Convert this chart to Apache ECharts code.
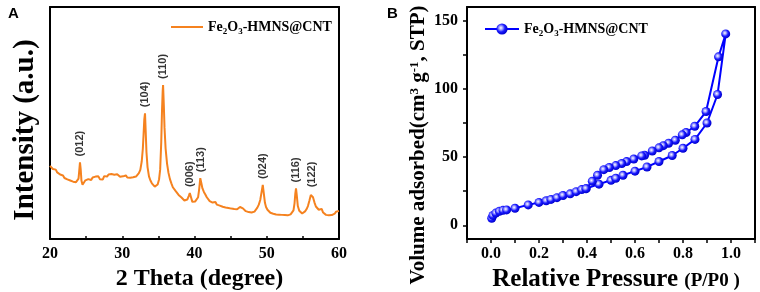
<!DOCTYPE html>
<html><head><meta charset="utf-8">
<script src="https://cdn.jsdelivr.net/npm/echarts@6/dist/echarts.min.js"></script>
<style>html,body{margin:0;padding:0;background:#fff}#c{width:760px;height:292px}</style>
</head><body><div id="c"></div>
<script>
// ---- Panel A: XRD pattern ----
const xrdTheta = [20.0,20.2,20.4,20.6,20.8,21.0,21.2,21.4,21.6,21.8,22.0,22.2,22.4,22.6,22.8,23.0,23.2,23.4,23.6,23.8,23.95,24.05,24.15,24.25,24.35,24.5,24.7,24.9,25.1,25.3,25.5,25.7,25.9,26.1,26.3,26.5,26.7,26.9,27.1,27.3,27.5,27.7,27.9,28.1,28.3,28.5,28.7,28.9,29.1,29.3,29.5,29.7,29.9,30.1,30.3,30.5,30.7,30.9,31.1,31.3,31.5,31.7,31.9,32.1,32.3,32.5,32.7,32.85,32.95,33.05,33.15,33.25,33.35,33.5,33.7,33.9,34.1,34.3,34.5,34.7,34.9,35.1,35.25,35.4,35.5,35.6,35.65,35.75,35.85,36.0,36.2,36.4,36.6,36.8,37.0,37.2,37.4,37.6,37.8,38.0,38.2,38.4,38.6,38.8,39.0,39.2,39.35,39.5,39.7,39.9,40.1,40.3,40.5,40.65,40.8,40.95,41.1,41.3,41.5,41.7,41.9,42.1,42.3,42.5,42.7,42.9,43.1,43.3,43.5,43.7,43.9,44.1,44.3,44.5,44.7,44.9,45.1,45.3,45.5,45.7,45.9,46.1,46.3,46.5,46.7,46.9,47.1,47.3,47.5,47.7,47.9,48.1,48.3,48.5,48.7,48.9,49.1,49.3,49.45,49.6,49.75,49.9,50.1,50.3,50.5,50.7,50.9,51.1,51.3,51.5,51.7,51.9,52.1,52.3,52.5,52.7,52.9,53.1,53.3,53.5,53.7,53.85,53.95,54.05,54.15,54.3,54.5,54.7,54.9,55.1,55.3,55.5,55.7,55.9,56.1,56.25,56.4,56.6,56.8,57.0,57.2,57.4,57.6,57.8,58.0,58.2,58.4,58.6,58.8,59.0,59.2,59.4,59.6,59.8,60.0];
const xrdIntensity = [31.5,30.8,30.2,29.6,29.9,28.7,28.3,27.8,27.0,27.4,26.3,26.6,25.7,25.9,25.2,25.6,24.7,25.1,24.5,25.0,26.0,29.5,33.0,30.0,25.2,23.4,24.1,25.3,24.6,25.8,26.1,25.4,26.5,25.9,26.9,26.2,27.0,25.8,26.4,25.6,27.1,27.6,26.9,27.8,27.3,28.0,27.2,27.7,27.0,27.9,27.3,26.8,27.6,27.0,26.6,27.4,26.5,27.1,26.4,27.0,26.6,27.3,26.9,27.6,28.4,29.8,33.5,39.0,45.0,51.5,54.2,46.0,37.5,31.0,27.0,25.2,24.0,23.2,22.6,22.4,23.5,25.8,30.0,42.0,55.0,64.0,66.4,58.0,48.0,39.0,32.5,28.5,25.8,24.0,22.3,21.6,20.6,19.9,19.0,18.5,17.9,17.2,16.6,16.4,17.0,18.5,19.8,18.2,16.0,15.4,16.2,16.9,18.0,21.5,26.2,24.0,21.8,20.3,19.2,18.0,17.4,16.3,16.8,15.7,15.4,15.9,14.8,15.1,14.4,14.9,13.9,14.5,13.6,14.2,13.4,13.9,13.1,13.7,12.9,13.3,12.8,13.4,13.8,14.0,13.2,12.5,12.0,12.4,11.6,11.9,11.4,12.0,11.8,12.6,13.5,14.8,16.8,20.5,23.3,19.5,15.6,13.8,12.6,11.9,11.3,11.7,10.9,11.4,10.6,11.1,10.5,11.0,10.4,10.9,10.3,10.8,10.2,10.9,10.6,11.3,12.3,15.5,19.5,21.8,19.0,14.2,12.2,11.6,11.0,11.4,11.9,12.8,14.2,16.5,19.0,19.7,18.0,15.8,14.0,13.2,12.6,13.3,13.0,11.4,10.9,10.4,10.8,10.2,10.7,10.3,11.0,10.9,11.8,11.5,12.1];
const peakTheta = [24.15,33.15,35.65,39.35,40.85,49.45,54.05,56.25];
const peakIntensity = [33.0,54.2,66.4,19.8,26.2,23.3,21.8,19.7];
const peakLabels = ['(012)','(104)','(110)','(006)','(113)','(024)','(116)','(122)'];

// ---- Panel B: N2 isotherm ----
const adsP = [0.003,0.008,0.02,0.035,0.05,0.065,0.10,0.155,0.20,0.23,0.25,0.275,0.30,0.33,0.355,0.378,0.396,0.45,0.50,0.52,0.55,0.60,0.65,0.70,0.755,0.80,0.85,0.90,0.944,0.978];
const adsV = [5.2,7.3,9.0,10.3,11.0,11.3,12.5,15.0,16.8,18.0,19.0,20.3,21.9,23.1,24.7,26.2,26.9,30.2,33.0,34.5,36.7,39.7,42.8,46.8,51.2,56.5,63.0,75.0,95.9,140.3];
const desP = [0.948,0.896,0.849,0.813,0.797,0.768,0.74,0.718,0.70,0.672,0.64,0.628,0.595,0.565,0.545,0.52,0.493,0.47,0.444,0.422,0.396];
const desV = [123.5,83.4,72.6,68.0,66.3,62.4,60.2,58.4,56.8,54.5,51.4,50.9,48.6,46.7,45.3,43.8,42.4,40.8,36.7,32.3,26.9];

const serif = "'Liberation Serif','Times New Roman',serif";
const sans = "'Liberation Sans',Arial,sans-serif";
const xrdData = xrdTheta.map((t,i)=>[t, xrdIntensity[i]]);
const peakData = peakTheta.map((t,i)=>[t, peakIntensity[i], peakLabels[i]]);
const isoData = adsP.map((p,i)=>[p, adsV[i]]).concat(desP.map((p,i)=>[p, desV[i]]));

const tickFont = {fontFamily: serif, fontWeight: 'bold', fontSize: 16, color: '#000'};
const legendText = {
  fontFamily: serif, fontWeight: 'bold', fontSize: 14, color: '#000',
  rich: {
    m: {fontFamily: serif, fontWeight: 'bold', fontSize: 14, color: '#000'},
    sub: {fontFamily: serif, fontWeight: 'bold', fontSize: 9, color: '#000', padding: [9, 0, 0, 0]}
  }
};
const legendFmt = () => '{m|Fe}{sub|2}{m|O}{sub|3}{m|-HMNS@CNT}';
const line2 = {lineStyle: {color: '#000', width: 2}, onZero: false};
const frameAxis = (grid, pos, min, max) => ({
  gridIndex: grid, type: 'value', position: pos, min: min, max: max,
  axisLine: Object.assign({show: true}, line2), axisTick: {show: false}, axisLabel: {show: false}, splitLine: {show: false}
});

const chart = echarts.init(document.getElementById('c'), null, {renderer: 'canvas'});
chart.setOption({
  animation: false,
  backgroundColor: '#fff',
  title: [
    {text: 'A', left: 3, top: 1, textStyle: {fontFamily: sans, fontWeight: 'bold', fontSize: 15, color: '#000'}},
    {text: 'B', left: 382, top: 1, textStyle: {fontFamily: sans, fontWeight: 'bold', fontSize: 15, color: '#000'}}
  ],
  grid: [
    {left: 50, top: 7, width: 289, height: 232, outerBoundsMode: 'none', containLabel: false},
    {left: 467, top: 7, width: 288, height: 232, outerBoundsMode: 'none', containLabel: false}
  ],
  legend: [
    {data: [{name: 'xrd', icon: 'rect'}], left: 166, top: 15, itemWidth: 32, itemHeight: 2, itemGap: 4, formatter: legendFmt, textStyle: legendText, selectedMode: false},
    {data: ['iso'], left: 479, top: 17, itemWidth: 34, itemHeight: 14, formatter: legendFmt, textStyle: legendText, selectedMode: false}
  ],
  xAxis: [
    {gridIndex: 0, type: 'value', min: 20, max: 60, interval: 10,
     axisLine: line2,
     axisTick: {inside: true, length: 3, lineStyle: {color: '#000', width: 1.5}},
     minorTick: {show: true, splitNumber: 2, length: 3, lineStyle: {color: '#000', width: 1.5}},
     splitLine: {show: false},
     axisLabel: Object.assign({margin: 7}, tickFont),
     name: '2 Theta (degree)', nameLocation: 'middle', nameGap: 24,
     nameTextStyle: {fontFamily: serif, fontWeight: 'bold', fontSize: 24, color: '#000', padding: [0, 0, 0, 10]}},
    {gridIndex: 1, type: 'value', min: -0.1, max: 1.1, interval: 0.1,
     axisLine: line2,
     axisTick: {inside: false, length: 4, lineStyle: {color: '#000', width: 1.5}},
     splitLine: {show: false},
     axisLabel: Object.assign({margin: 7, formatter: v => {const k = Math.round(v*10); return (k >= 0 && k <= 10 && k % 2 === 0) ? (k/10).toFixed(1) : '';}}, tickFont),
     name: '{n|Relative Pressure }{s|(P/P0 )}', nameLocation: 'middle', nameGap: 23,
     nameTextStyle: {padding: [0, 0, 0, 10], rich: {
       n: {fontFamily: serif, fontWeight: 'bold', fontSize: 25, color: '#000'},
       s: {fontFamily: serif, fontWeight: 'bold', fontSize: 19, color: '#000', padding: [4, 0, 0, 0]}}}},
    frameAxis(0, 'top', 20, 60),
    frameAxis(1, 'top', -0.1, 1.1)
  ],
  yAxis: [
    {gridIndex: 0, type: 'value', min: 0, max: 100,
     axisLine: Object.assign({show: true}, line2),
     axisTick: {show: false}, axisLabel: {show: false}, splitLine: {show: false},
     name: 'Intensity (a.u.)', nameLocation: 'middle', nameGap: 10,
     nameTextStyle: {fontFamily: serif, fontWeight: 'bold', fontSize: 29, color: '#000', padding: [0, 14, 0, 0]}},
    {gridIndex: 1, type: 'value', min: -10, max: 160,
     axisLine: Object.assign({show: true}, line2),
     axisTick: {show: true, length: 4, customValues: [0, 25, 50, 75, 100, 125, 150], lineStyle: {color: '#000', width: 1.5}},
     axisLabel: Object.assign({margin: 9, customValues: [0, 50, 100, 150]}, tickFont),
     splitLine: {show: false},
     name: '{n|Volume adsorbed(cm}{sup|3}{n| g}{sup|-1}{n|, STP)}', nameLocation: 'middle', nameGap: 37,
     nameTextStyle: {padding: [0, 44, 0, 0], rich: {
       n: {fontFamily: serif, fontWeight: 'bold', fontSize: 21, color: '#000'},
       sup: {fontFamily: serif, fontWeight: 'bold', fontSize: 13, color: '#000', padding: [0, 0, 9, 0]}}}},
    frameAxis(0, 'right', 0, 100),
    frameAxis(1, 'right', -10, 160)
  ],
  series: [
    {name: 'xrd', type: 'line', xAxisIndex: 0, yAxisIndex: 0, data: xrdData, symbol: 'none',
     lineStyle: {color: '#f5821f', width: 2}, itemStyle: {color: '#f5821f'}, silent: true, z: 3},
    {name: 'peaks', type: 'scatter', xAxisIndex: 0, yAxisIndex: 0, data: peakData, symbolSize: 0, silent: true, z: 4,
     label: {show: true, position: 'top', distance: 6, rotate: 90, align: 'left', verticalAlign: 'middle',
       formatter: p => p.data[2], fontFamily: sans, fontWeight: 'bold', fontSize: 11, color: '#000'}},
    {name: 'iso', type: 'line', xAxisIndex: 1, yAxisIndex: 1, data: isoData, symbol: 'circle', symbolSize: 9, showSymbol: true,
     lineStyle: {color: '#0000ff', width: 2},
     itemStyle: {color: {type: 'radial', x: 0.4, y: 0.4, r: 0.6, colorStops: [
       {offset: 0, color: '#ffffff'}, {offset: 0.3, color: '#9a9aff'}, {offset: 0.6, color: '#1a1aff'}, {offset: 1, color: '#0000cc'}]}},
     silent: true, z: 3}
  ]
});
</script>
</body></html>
